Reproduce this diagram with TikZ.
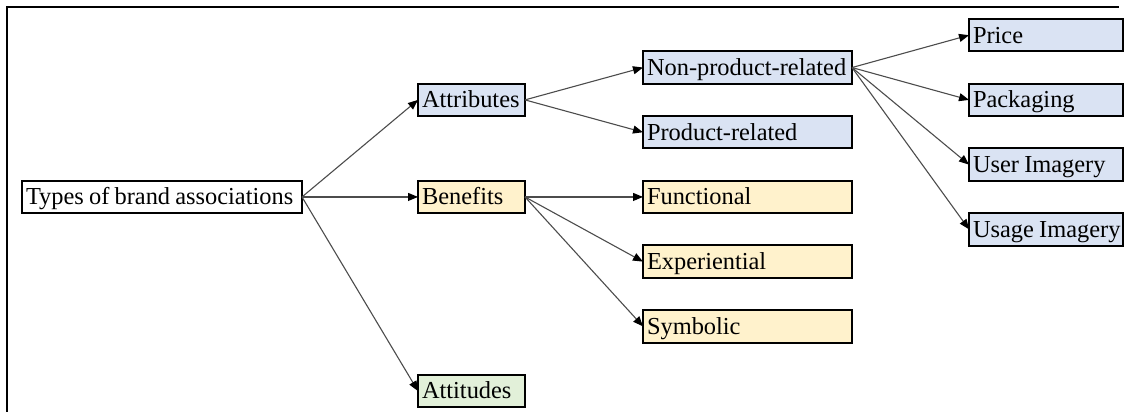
\documentclass[tikz,border=0pt]{standalone}
\usepackage{fontspec}
\setmainfont{Liberation Serif}[WordSpace={0.85,0.3,0.3}]
\usetikzlibrary{arrows.meta}
\definecolor{bluefill}{HTML}{DAE3F3}
\definecolor{tanfill}{HTML}{FFF2CC}
\definecolor{greenfill}{HTML}{E2F0D9}
\newcommand{\bxa}[1]{\makebox[136pt][l]{#1}}
\newcommand{\bxb}[1]{\makebox[49.5pt][l]{#1}}
\newcommand{\bxc}[1]{\makebox[100.5pt][l]{#1}}
\newcommand{\bxd}[1]{\makebox[73pt][l]{#1}}
\begin{document}
\begin{tikzpicture}[x=0.5pt,y=-0.5pt,
  box/.style={draw=black, line width=1pt, outer sep=0pt, anchor=north west,
    inner xsep=2pt, inner ysep=0pt, minimum height=16.2pt,
    text height=12pt, text depth=4.2pt,
    font=\fontsize{12.2pt}{14pt}\selectfont},
  bluebox/.style={box, fill=bluefill},
  tanbox/.style={box, fill=tanfill},
  greenbox/.style={box, fill=greenfill},
  arr/.style={draw=black!70, line width=0.55pt,
    -{Triangle[length=5pt,width=4pt,color=black]}}
]
\useasboundingbox (0,0) rectangle (1125,412);
\draw[line width=1.1pt] (7,412) -- (7,7) -- (1119,7);

% column 1
\node[box, fill=white] (types) at (22,180.75) {\bxa{Types of brand associations}};
% column 2
\node[bluebox] (attr) at (418,83.7) {\bxb{Attributes}};
\node[tanbox] (ben) at (418,180.75) {\bxb{Benefits}};
\node[greenbox] (attd) at (418,374.85) {\bxb{Attitudes}};
% column 3
\node[bluebox] (nonprod) at (643,51.35) {\bxc{Non-product-related}};
\node[bluebox] (prod) at (643,116.05) {\bxc{Product-related}};
\node[tanbox] (func) at (643,180.75) {\bxc{Functional}};
\node[tanbox] (exper) at (643,245.45) {\bxc{Experiential}};
\node[tanbox] (symb) at (643,310.15) {\bxc{Symbolic}};
% column 4
\node[bluebox] (price) at (969,19) {\bxd{Price}};
\node[bluebox] (pack) at (969,83.7) {\bxd{Packaging}};
\node[bluebox] (user) at (969,148.4) {\bxd{User Imagery}};
\node[bluebox] (usage) at (969,213.1) {\bxd{Usage Imagery}};

% connectors
\draw[arr] (types.east) -- (attr.west);
\draw[arr] (types.east) -- (ben.west);
\draw[arr] (types.east) -- (attd.west);
\draw[arr] (attr.east) -- (nonprod.west);
\draw[arr] (attr.east) -- (prod.west);
\draw[arr] (ben.east) -- (func.west);
\draw[arr] (ben.east) -- (exper.west);
\draw[arr] (ben.east) -- (symb.west);
\draw[arr] (nonprod.east) -- (price.west);
\draw[arr] (nonprod.east) -- (pack.west);
\draw[arr] (nonprod.east) -- (user.west);
\draw[arr] (nonprod.east) -- (usage.west);
\end{tikzpicture}
\end{document}
